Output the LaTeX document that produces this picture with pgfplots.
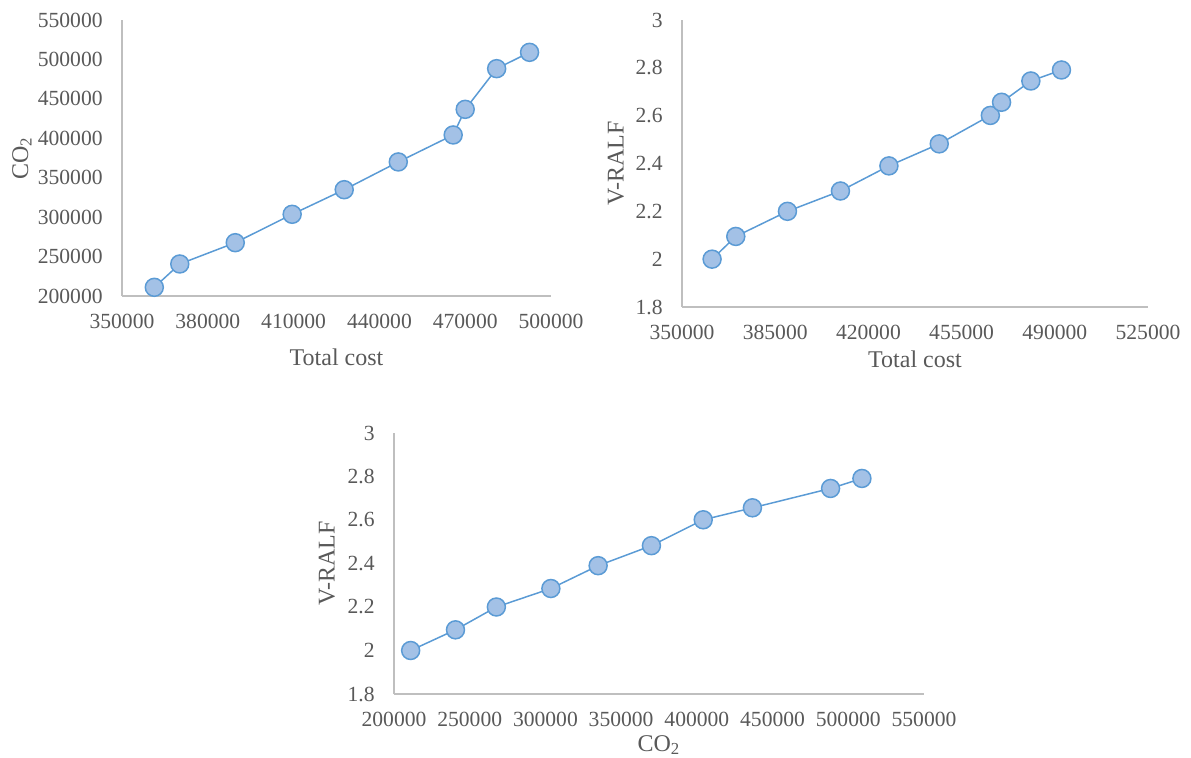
\documentclass[border=0pt]{standalone}
\usepackage{fontspec}
\setmainfont{Liberation Serif}
\usepackage{pgfplots}
\usepackage{pgfplotstable}
\pgfplotsset{compat=1.18}
\definecolor{tickgray}{HTML}{595959}
\definecolor{axgray}{HTML}{BFBFBF}
\definecolor{lineblue}{HTML}{5B9BD5}
\definecolor{markfill}{HTML}{A3C1E6}
\pgfplotstableread{
cost   co2    vralf
361300 211000 2.000
370200 240600 2.095
389600 267600 2.200
409500 303600 2.285
427700 334800 2.390
446600 370000 2.482
465800 404200 2.601
470000 436700 2.656
481000 488300 2.745
492500 509000 2.791
}\data
\pgfplotsset{
  mystyle/.style={
    scale only axis, anchor=south west,
    axis x line=bottom, axis y line=left,
    axis line style={axgray, line width=0.75bp, -},
    major tick length=0pt, tick style={draw=none},
    tick label style={font=\fontsize{10.8bp}{12bp}\selectfont, text=tickgray, inner sep=0pt},
    xticklabel style={anchor=north, yshift=-9bp},
    yticklabel style={anchor=east, xshift=-9.5bp},
    /pgf/number format/.cd, fixed, 1000 sep={}, assume math mode=true, /pgfplots/.cd,
    scaled ticks=false,
    clip=false,
  },
  xlab/.style={every axis x label/.style={at={(axis description cs:0.5,0)},anchor=north,yshift=#1,
    font=\fontsize{12bp}{14bp}\selectfont, text=tickgray, inner sep=0pt}},
  ylab/.style={every axis y label/.style={at={(axis description cs:0,0.5)},anchor=center,xshift=#1,rotate=90,
    font=\fontsize{12bp}{14bp}\selectfont, text=tickgray, inner sep=0pt}},
  ser/.style={color=lineblue, line width=0.75bp, mark=*, mark size=4.5bp,
    mark options={fill=markfill, draw=lineblue, line width=0.75bp}},
}
\begin{document}
\begin{tikzpicture}
\useasboundingbox (0,0) rectangle (595.5bp,379bp);
% Chart 1
\begin{axis}[mystyle, at={(61bp,231bp)}, width=214.5bp, height=138bp,
  xmin=350000, xmax=500000, ymin=200000, ymax=550000,
  xtick={350000,380000,410000,440000,470000,500000},
  ytick={200000,250000,300000,350000,400000,450000,500000,550000},
  xlab=-26bp, ylab=-50bp,
  xlabel={Total cost}, ylabel={CO\textsubscript{2}}]
\addplot[ser] table[x=cost, y=co2] {\data};
\end{axis}
% Chart 2
\begin{axis}[mystyle, at={(341bp,225.5bp)}, width=233bp, height=143.5bp,
  xmin=350000, xmax=525000, ymin=1.8, ymax=3,
  xtick={350000,385000,420000,455000,490000,525000},
  ytick={1.8,2,2.2,2.4,2.6,2.8,3},
  xlab=-21.5bp, ylab=-33bp,
  xlabel={Total cost}, ylabel={V-RALF}]
\addplot[ser] table[x=cost, y=vralf] {\data};
\end{axis}
% Chart 3
\begin{axis}[mystyle, at={(197bp,32bp)}, width=265bp, height=130.5bp,
  xmin=200000, xmax=550000, ymin=1.8, ymax=3,
  xtick={200000,250000,300000,350000,400000,450000,500000,550000},
  ytick={1.8,2,2.2,2.4,2.6,2.8,3},
  xlab=-20.5bp, ylab=-33.5bp,
  xlabel={CO\textsubscript{2}}, ylabel={V-RALF}]
\addplot[ser] table[x=co2, y=vralf] {\data};
\end{axis}
\end{tikzpicture}
\end{document}
